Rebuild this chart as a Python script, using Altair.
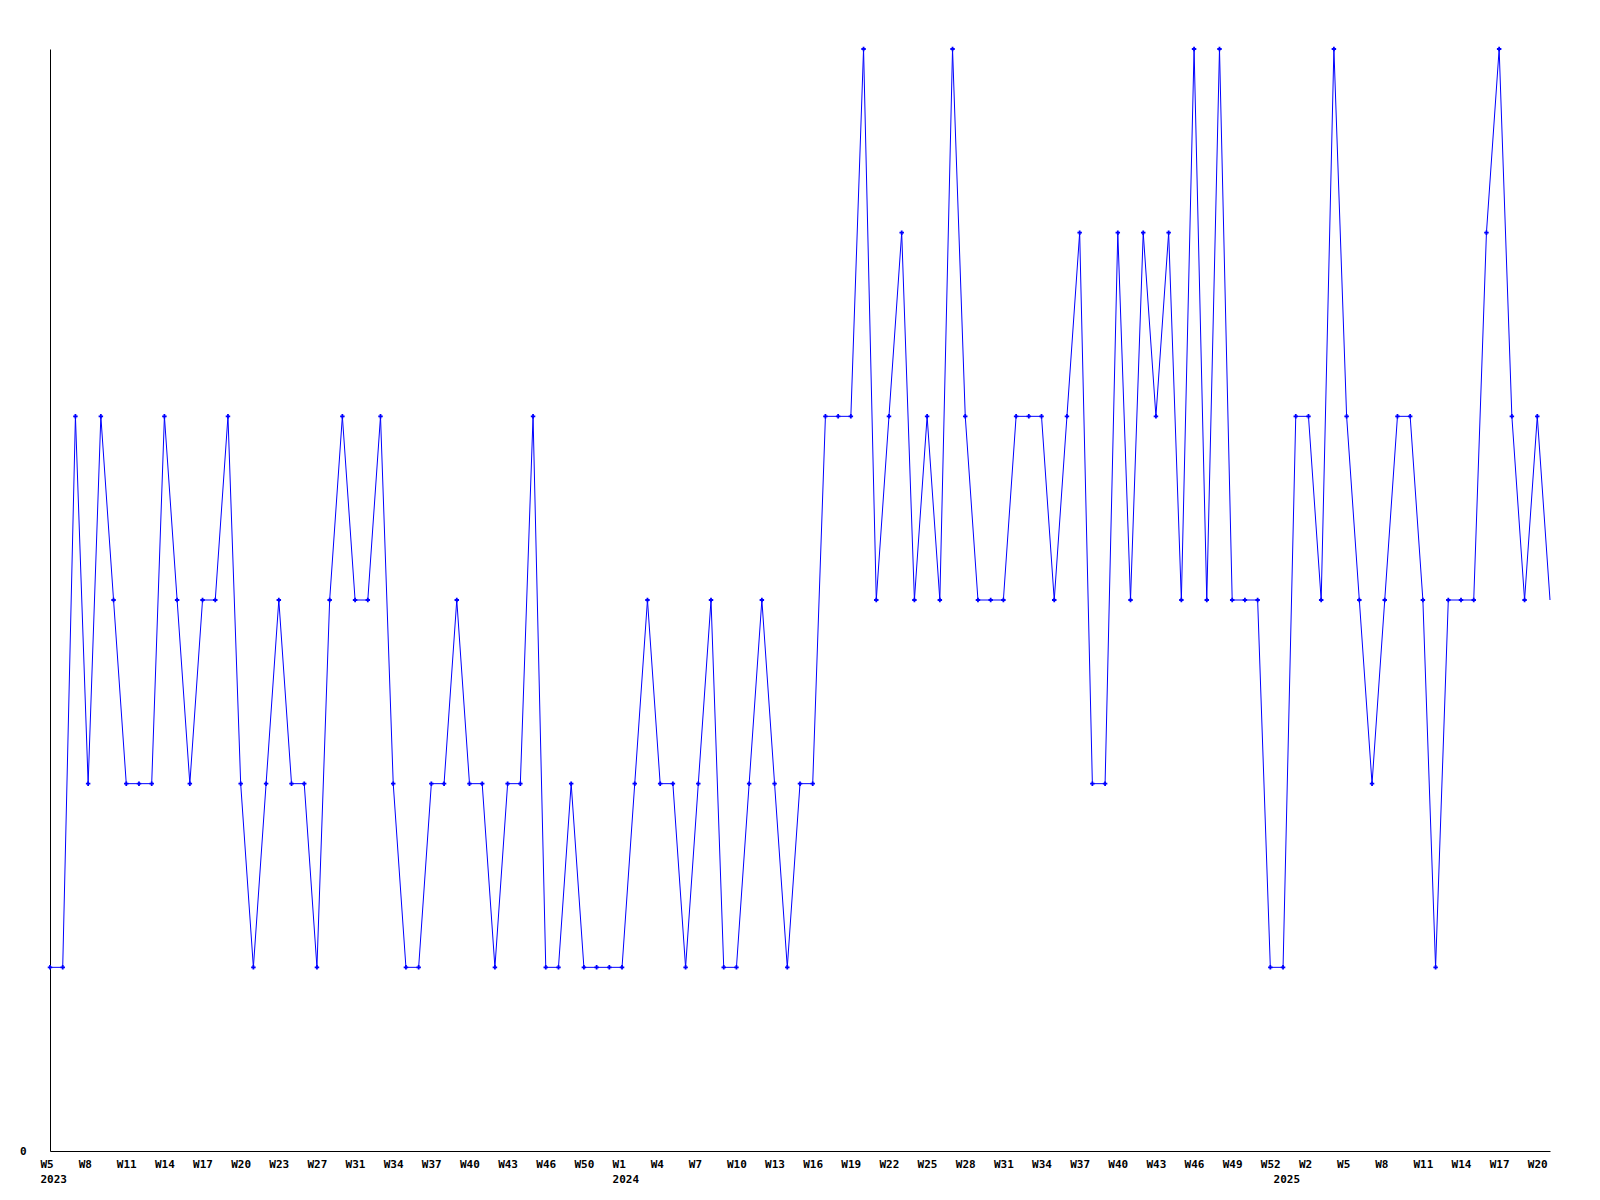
import altair as alt
import pandas as pd

# ---- data ----
values = [
    1, 1, 4, 2, 4, 3, 2, 2, 2, 4, 3, 2, 3, 3, 4, 2, 1, 2, 3, 2, 2, 1, 3, 4, 3, 3, 4, 2, 1, 1,
    2, 2, 3, 2, 2, 1, 2, 2, 4, 1, 1, 2,
    1, 1, 1, 1, 2, 3, 2, 2, 1, 2, 3, 1, 1, 2, 3, 2, 1, 2, 2, 4, 4, 4,
    6, 3, 4, 5, 3, 4, 3, 6, 4, 3, 3, 3, 4, 4, 4, 3, 4, 5, 2, 2, 5, 3, 5, 4, 5, 3, 6, 3, 6,
    3, 3, 3, 1, 1, 4, 4, 3, 6, 4, 3, 2, 3, 4, 4, 3, 1, 3, 3, 3, 5, 6, 4, 3, 4, 3,
]

weeks_2023 = [5, 6, 7, 8, 9, 10, 11, 12, 13, 14, 15, 16, 17, 18, 19, 20, 21, 22, 23, 24, 26,
              27, 28, 30, 31, 32, 33, 34, 35, 36, 37, 38, 39, 40, 41, 42, 43, 44, 45, 46, 47,
              49, 50, 51, 52]
weeks_2024 = list(range(1, 53))
weeks_2025 = list(range(0, 22))

week_labels = ([f"W{w}" for w in weeks_2023] + [f"W{w}" for w in weeks_2024]
               + [f"W{w}" for w in weeks_2025])
years = [2023] * len(weeks_2023) + [2024] * len(weeks_2024) + [2025] * len(weeks_2025)

n = len(values)
df = pd.DataFrame({"i": list(range(n)), "value": values, "week": week_labels[:n], "year": years[:n]})

# week labels every third point; year shown under the first point of each year
week_ticks = list(range(0, n, 3))
year_start = {}
for i, y in enumerate(years[:n]):
    year_start.setdefault(y, i)
year_at = {v: k for k, v in year_start.items()}
tick_idx = sorted(set(week_ticks) | set(year_at))


def tick_text(i):
    wk = week_labels[i] if i in week_ticks else ""
    if i in year_at:
        return f"['{wk}','{year_at[i]}']"
    return f"'{wk}'"


label_array = "[" + ",".join(tick_text(i) if i in tick_idx else "''" for i in range(n)) + "]"
label_expr = f"{label_array}[round(datum.value)]"

FONT = "DejaVu Sans Mono"
BLUE = "#0000ff"

x = alt.X(
    "i:Q",
    scale=alt.Scale(domain=[0, n - 1], nice=False, zero=False),
    axis=alt.Axis(
        values=tick_idx,
        labelExpr=label_expr,
        ticks=False,
        grid=False,
        title=None,
        domainColor="black",
        domainWidth=1,
        labelAlign="left",
        labelOffset=-10,
        labelBaseline="top",
        labelPadding=7,
        labelFont=FONT,
        labelFontWeight="bold",
        labelFontSize=11,
        labelColor="black",
        labelLineHeight=15,
        labelOverlap=False,
        labelFlush=False,
    ),
)
y = alt.Y(
    "value:Q",
    scale=alt.Scale(domain=[0, 6], nice=False),
    axis=alt.Axis(
        values=[0],
        ticks=False,
        grid=False,
        title=None,
        domainColor="black",
        domainWidth=1,
        labelPadding=24,
        labelFont=FONT,
        labelFontWeight="bold",
        labelFontSize=11,
        labelColor="black",
        labelBaseline="middle",
    ),
)

line = alt.Chart(df).mark_line(color=BLUE, strokeWidth=1).encode(x=x, y=y)
pts = (
    alt.Chart(df)
    .transform_filter(f"datum.i < {n - 1}")
    .mark_point(shape="cross", filled=True, size=20, color=BLUE, opacity=1)
    .encode(x=x, y=y)
)

chart = (
    alt.layer(line, pts)
    .properties(
        width=1500,
        height=1102,
        autosize="none",
        padding={"left": 42, "top": 41, "right": 34, "bottom": 40},
        background="white",
    )
    .configure_view(stroke=None)
)

chart.save("out.html", embed_options={"renderer": "svg", "actions": False})
